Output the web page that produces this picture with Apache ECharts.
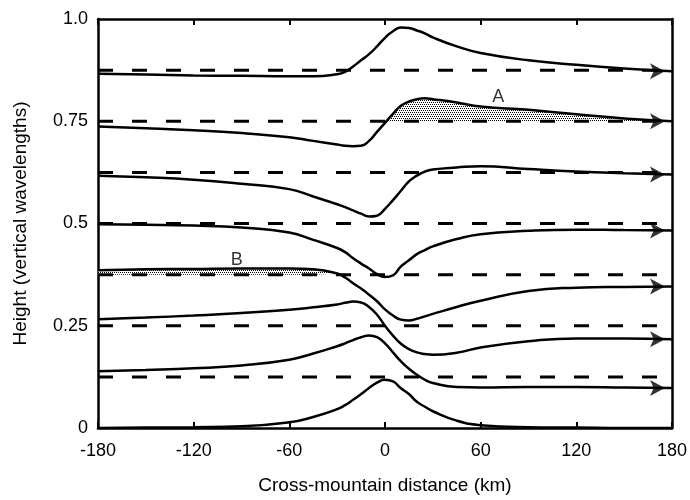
<!DOCTYPE html>
<html>
<head>
<meta charset="utf-8">
<script src="https://cdn.jsdelivr.net/npm/echarts@6/dist/echarts.min.js"></script>
<style>html,body{margin:0;padding:0;background:#fff}#c{width:690px;height:500px}</style>
</head>
<body>
<div id="c"></div>
<script>
// Cross-mountain distance (km)
const xKm = [-180,-150,-120,-90,-60,-45,-30,-25,-20,-15,-10,-5,0,5,10,15,20,25,30,45,60,90,120,150,180];
// Streamlines (height in vertical wavelengths), top to bottom
const c1 = [.866,.864,.862,.861,.860,.860,.865,.871,.884,.899,.914,.933,.954,.970,.979,.978,.972,.965,.955,.933,.917,.899,.888,.879,.872];
const c2 = [.737,.733,.728,.721,.711,.702,.693,.690,.689,.690,.702,.724,.746,.768,.788,.798,.804,.806,.804,.796,.786,.778,.767,.757,.750];
const c3 = [.617,.613,.607,.597,.584,.566,.547,.540,.532,.524,.517,.519,.536,.557,.580,.603,.617,.627,.632,.637,.640,.633,.627,.623,.620];
const c4 = [.498,.497,.495,.490,.478,.460,.440,.430,.415,.402,.390,.376,.369,.373,.395,.410,.425,.435,.444,.462,.474,.482,.485,.484,.483];
const c5 = [.386,.388,.389,.390,.390,.388,.378,.368,.354,.341,.326,.310,.290,.275,.265,.263,.267,.273,.279,.296,.311,.335,.343,.345,.346];
const c6 = [.266,.270,.275,.281,.289,.295,.302,.306,.309,.307,.296,.277,.250,.226,.206,.193,.185,.181,.179,.184,.197,.212,.219,.219,.217];
const c7 = [.139,.142,.146,.153,.167,.182,.200,.207,.215,.222,.226,.222,.207,.185,.163,.145,.130,.118,.110,.100,.099,.100,.100,.099,.098];
const c8 = [0,.001,.002,.004,.014,.027,.046,.056,.069,.083,.098,.111,.118,.114,.097,.083,.064,.052,.041,.018,.007,.002,.001,0,0];
// Undisturbed levels (dashed)
const dashLevels = [0.875,0.75,0.625,0.5,0.375,0.25,0.125];
// Tick labels
const xTicks = [-180,-120,-60,0,60,120,180];
const yTickLabels = ['0','0.25','0.5','0.75','1.0'];
// Shaded regions
const shadeA = {curve: c2, level: 0.75, from: 0, to: 180, label: 'A', at: [71, 0.81]};
const shadeB = {curve: c5, level: 0.375, from: -180, to: -30, label: 'B', at: [-93, 0.41]};

const FONT = "'Liberation Sans', Arial, Helvetica, sans-serif";
const chart = echarts.init(document.getElementById('c'), null, {renderer: 'canvas'});

// stipple pattern
const pc = document.createElement('canvas');
pc.width = 4; pc.height = 4;
const pctx = pc.getContext('2d');
pctx.fillStyle = '#ffffff'; pctx.fillRect(0,0,4,4);
pctx.fillStyle = '#000000';
pctx.fillRect(0,0,1,1); pctx.fillRect(2,0,1,1); pctx.fillRect(1,2,1,1); pctx.fillRect(3,2,1,1);
const pattern = {image: pc, repeat: 'repeat'};

const curves = [c1,c2,c3,c4,c5,c6,c7,c8];
const pts = c => xKm.map((x,i)=>[x,c[i]]);
const series = [];
const SM = 0.5;

[shadeA, shadeB].forEach(s => {
  series.push({
    type: 'line', smooth: SM, symbol: 'none', silent: true, z: 1,
    data: pts(s.curve).filter(p => p[0] >= s.from && p[0] <= s.to),
    lineStyle: {width: 0, opacity: 0},
    areaStyle: {origin: s.level, color: pattern, opacity: 1}
  });
});

dashLevels.forEach(l => {
  series.push({
    type: 'line', symbol: 'none', silent: true, z: 2,
    data: [[xKm[0], l], [xKm[xKm.length-1], l]],
    lineStyle: {color: '#000', width: 3, type: [15, 19]}
  });
});

curves.forEach(c => {
  series.push({
    type: 'line', smooth: SM, symbol: 'none', silent: true, z: 3,
    data: pts(c),
    lineStyle: {color: '#000', width: 2.5}
  });
});

// arrowheads at downstream ends (all but the terrain curve)
series.push({
  type: 'scatter', silent: true, z: 4,
  symbol: 'arrow', symbolSize: [12, 15], symbolRotate: -90, symbolOffset: [-7, 0],
  itemStyle: {color: '#000'},
  data: curves.slice(0, 7).map(c => [xKm[xKm.length-1], c[c.length-1]])
});

// labels A, B
series.push({
  type: 'scatter', silent: true, z: 5, symbolSize: 0,
  data: [shadeA, shadeB].map(s => ({value: s.at, label: {show: true, formatter: s.label}})),
  label: {position: 'inside', color: '#000', fontSize: 18, fontFamily: FONT}
});

const axisLine = {show: true, onZero: false, lineStyle: {color: '#000', width: 2.5}};
chart.setOption({
  backgroundColor: '#fff',
  animation: false,
  grid: {left: 98, right: 11, top: 19, bottom: 70},
  xAxis: [{
    type: 'value', min: -180, max: 180, interval: 60, position: 'bottom',
    axisLine: axisLine, splitLine: {show: false},
    axisTick: {inside: true, length: 6, lineStyle: {color: '#000', width: 2}},
    axisLabel: {color: '#000', fontSize: 18, fontFamily: FONT, margin: 14,
      formatter: v => xTicks.includes(v) ? String(v) : ''},
    name: 'Cross-mountain distance (km)', nameLocation: 'middle', nameGap: 48,
    nameTextStyle: {color: '#000', fontSize: 19, fontFamily: FONT}
  }, {
    type: 'value', min: -180, max: 180, interval: 60, position: 'top',
    axisLine: axisLine, splitLine: {show: false},
    axisTick: {inside: true, length: 6, lineStyle: {color: '#000', width: 2}},
    axisLabel: {show: false}
  }],
  yAxis: [{
    type: 'value', min: 0, max: 1, interval: 0.25, position: 'left',
    axisLine: axisLine, splitLine: {show: false},
    axisTick: {show: false},
    axisLabel: {color: '#000', fontSize: 18, fontFamily: FONT, margin: 10,
      formatter: (v) => yTickLabels[Math.round(v / 0.25)]},
    name: 'Height (vertical wavelengths)', nameLocation: 'middle', nameGap: 68, nameRotate: 90,
    nameTextStyle: {color: '#000', fontSize: 19, fontFamily: FONT}
  }, {
    type: 'value', min: 0, max: 1, interval: 0.25, position: 'right',
    axisLine: axisLine, splitLine: {show: false}, axisTick: {show: false}, axisLabel: {show: false}
  }],
  series: series
});
</script>
</body>
</html>
